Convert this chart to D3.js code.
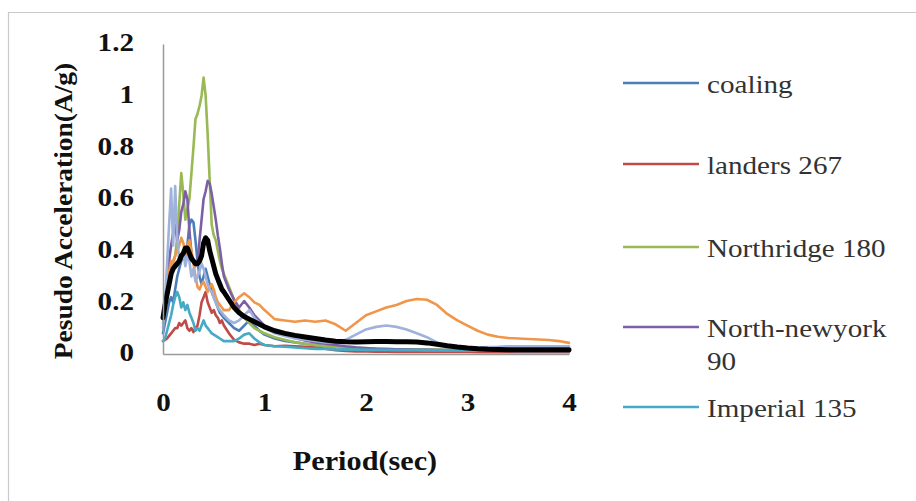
<!DOCTYPE html>
<html lang="en">
<head>
<meta charset="UTF-8">
<title>Pseudo acceleration spectra</title>
<script src="https://cdn.jsdelivr.net/npm/d3@7"></script>
<style>
  body { margin: 0; background: #fff; }
  svg { display: block; }
  text { font-family: "Liberation Serif", "Times New Roman", Times, "DejaVu Serif", serif; }
  .tick text { font-weight: bold; font-size: 26px; fill: #111; }
</style>
</head>
<body>
<svg id="chart" width="916" height="501"></svg>
<script>
// period grid (sec)
const periods = [0, 0.02, 0.04, 0.06, 0.08, 0.1, 0.12, 0.14, 0.16, 0.18, 0.2, 0.22, 0.24, 0.26, 0.28, 0.3,
  0.32, 0.34, 0.36, 0.38, 0.4, 0.42, 0.44, 0.46, 0.48, 0.5, 0.52, 0.54, 0.56, 0.58, 0.6,
  0.65, 0.7, 0.75, 0.8, 0.85, 0.9, 0.95, 1.0,
  1.1, 1.2, 1.3, 1.4, 1.5, 1.6, 1.7, 1.8, 1.9, 2.0, 2.1, 2.2, 2.3, 2.4, 2.5, 2.6, 2.7, 2.8, 2.9, 3.0,
  3.1, 3.2, 3.3, 3.4, 3.5, 3.6, 3.7, 3.8, 3.9, 4.0];

const coaling = [0.08, 0.12, 0.16, 0.2, 0.22, 0.2, 0.25, 0.3, 0.33, 0.36, 0.38, 0.36, 0.42, 0.5, 0.52, 0.51,
  0.44, 0.36, 0.3, 0.27, 0.3, 0.33, 0.3, 0.27, 0.24, 0.22, 0.2, 0.18, 0.16, 0.15, 0.14,
  0.12, 0.1, 0.09, 0.11, 0.13, 0.11, 0.09, 0.075,
  0.06, 0.05, 0.045, 0.04, 0.035, 0.03, 0.027, 0.024, 0.022, 0.02, 0.02, 0.019, 0.018, 0.018, 0.017,
  0.016, 0.016, 0.015, 0.015, 0.014, 0.014, 0.013, 0.013, 0.013, 0.012, 0.012, 0.012, 0.012, 0.012, 0.012];

const landers = [0.05, 0.055, 0.06, 0.07, 0.08, 0.09, 0.1, 0.1, 0.12, 0.11, 0.12, 0.13, 0.1, 0.09, 0.1, 0.085,
  0.1, 0.11, 0.15, 0.2, 0.22, 0.24, 0.2, 0.18, 0.16, 0.17, 0.15, 0.14, 0.12, 0.13, 0.11,
  0.08, 0.055, 0.045, 0.04, 0.04, 0.035, 0.04, 0.035,
  0.03, 0.032, 0.03, 0.028, 0.025, 0.02, 0.015, 0.012, 0.01, 0.01, 0.009, 0.009, 0.008, 0.008, 0.008,
  0.008, 0.008, 0.008, 0.008, 0.008, 0.007, 0.007, 0.007, 0.007, 0.007, 0.007, 0.007, 0.007, 0.007, 0.007];

const northridge = [0.12, 0.16, 0.22, 0.28, 0.33, 0.36, 0.38, 0.45, 0.58, 0.7, 0.62, 0.52, 0.56, 0.6, 0.7, 0.8,
  0.91, 0.93, 0.96, 1.0, 1.07, 1.0, 0.85, 0.67, 0.5, 0.46, 0.44, 0.4, 0.36, 0.33, 0.31,
  0.26, 0.21, 0.17, 0.14, 0.12, 0.1, 0.09, 0.08,
  0.065, 0.055, 0.045, 0.04, 0.035, 0.03, 0.028, 0.025, 0.022, 0.02, 0.019, 0.018, 0.018, 0.017, 0.017,
  0.016, 0.016, 0.015, 0.015, 0.015, 0.014, 0.014, 0.014, 0.014, 0.013, 0.013, 0.013, 0.013, 0.013, 0.013];

const newyork = [0.15, 0.2, 0.28, 0.36, 0.42, 0.47, 0.5, 0.44, 0.48, 0.55, 0.58, 0.63, 0.6, 0.48, 0.39, 0.36,
  0.34, 0.36, 0.44, 0.52, 0.6, 0.63, 0.67, 0.66, 0.62, 0.57, 0.52, 0.46, 0.41, 0.35, 0.3,
  0.25, 0.21, 0.18, 0.205, 0.18, 0.15, 0.13, 0.11,
  0.09, 0.075, 0.062, 0.052, 0.045, 0.04, 0.035, 0.03, 0.026, 0.023, 0.02, 0.019, 0.018, 0.017, 0.016,
  0.016, 0.015, 0.015, 0.015, 0.014, 0.014, 0.013, 0.013, 0.013, 0.012, 0.012, 0.012, 0.012, 0.012, 0.012];

const imperial = [0.05, 0.06, 0.09, 0.12, 0.15, 0.19, 0.22, 0.24, 0.22, 0.18, 0.2, 0.17, 0.19, 0.16, 0.14, 0.12,
  0.09, 0.1, 0.09, 0.11, 0.13, 0.11, 0.1, 0.09, 0.08, 0.075, 0.07, 0.065, 0.06, 0.055, 0.05,
  0.05, 0.05, 0.06, 0.075, 0.08, 0.06, 0.045, 0.035,
  0.03, 0.028, 0.025, 0.022, 0.02, 0.02, 0.018, 0.017, 0.017, 0.016, 0.016, 0.016, 0.015, 0.015, 0.015,
  0.014, 0.014, 0.014, 0.014, 0.013, 0.013, 0.013, 0.013, 0.013, 0.012, 0.012, 0.012, 0.012, 0.012, 0.012];

// two more records whose legend entries are cut off in the original
const record6 = [0.15, 0.2, 0.26, 0.32, 0.36, 0.35, 0.38, 0.4, 0.42, 0.45, 0.43, 0.38, 0.42, 0.44, 0.4, 0.35,
  0.3, 0.26, 0.25, 0.27, 0.28, 0.26, 0.24, 0.26, 0.27, 0.25, 0.22, 0.2, 0.19, 0.18, 0.17,
  0.17, 0.2, 0.22, 0.235, 0.22, 0.2, 0.19, 0.17,
  0.135, 0.13, 0.125, 0.13, 0.125, 0.13, 0.115, 0.09, 0.12, 0.15, 0.165, 0.18, 0.19, 0.205, 0.213,
  0.21, 0.19, 0.155, 0.13, 0.11, 0.09, 0.075, 0.067, 0.062, 0.06, 0.058, 0.056, 0.054, 0.05, 0.043];

const record7 = [0.1, 0.2, 0.35, 0.5, 0.64, 0.42, 0.65, 0.45, 0.36, 0.38, 0.4, 0.34, 0.38, 0.36, 0.3, 0.33,
  0.28, 0.3, 0.32, 0.35, 0.33, 0.3, 0.27, 0.25, 0.24, 0.22, 0.2, 0.18, 0.17, 0.16, 0.15,
  0.13, 0.12, 0.13, 0.15, 0.17, 0.14, 0.12, 0.1,
  0.08, 0.07, 0.06, 0.055, 0.05, 0.045, 0.045, 0.055, 0.075, 0.095, 0.105, 0.11, 0.105, 0.095, 0.08,
  0.065, 0.045, 0.032, 0.027, 0.025, 0.025, 0.027, 0.028, 0.03, 0.03, 0.03, 0.03, 0.03, 0.03, 0.03];

const mean = [0.14, 0.19, 0.23, 0.27, 0.31, 0.33, 0.34, 0.35, 0.36, 0.38, 0.39, 0.41, 0.41, 0.39, 0.37, 0.36,
  0.35, 0.35, 0.36, 0.38, 0.43, 0.45, 0.44, 0.4, 0.37, 0.34, 0.31, 0.29, 0.27, 0.25, 0.24,
  0.21, 0.18, 0.16, 0.145, 0.135, 0.125, 0.115, 0.105,
  0.09, 0.08, 0.072, 0.066, 0.06, 0.054, 0.049, 0.047, 0.046, 0.047, 0.048, 0.048, 0.047, 0.047, 0.046,
  0.043, 0.038, 0.032, 0.027, 0.023, 0.02, 0.018, 0.017, 0.016, 0.016, 0.016, 0.016, 0.016, 0.016, 0.016];

const xTicks = [0, 1, 2, 3, 4];
const yTicks = [0, 0.2, 0.4, 0.6, 0.8, 1, 1.2];

const series = [
  { name: "coaling", values: coaling, color: "#4a7ebb", legend: true },
  { name: "landers 267", values: landers, color: "#be4b48", legend: true },
  { name: "Northridge 180", values: northridge, color: "#98b954", legend: true },
  { name: "North-newyork 90", values: newyork, color: "#7d5fa6", legend: true },
  { name: "Imperial 135", values: imperial, color: "#46aac5", legend: true },
  { name: "record 6", values: record6, color: "#f0964a", legend: false },
  { name: "record 7", values: record7, color: "#9fb2dc", legend: false },
  { name: "mean", values: mean, color: "#000000", legend: false, width: 5 }
];

const svg = d3.select("#chart");
const SX = 1.12; // text in the original is slightly wide

// outer frame
svg.append("path")
  .attr("d", "M8.5,501 V12.5 H916")
  .attr("fill", "none")
  .attr("stroke", "#c9c9c9")
  .attr("stroke-width", 1.2);

const x = d3.scaleLinear().domain([0, 4]).range([163, 569]);
const y = d3.scaleLinear().domain([0, 1.2]).range([354, 44]);

const line = d3.line()
  .x((d, i) => x(periods[i]))
  .y(d => y(d));

svg.selectAll("path.series")
  .data(series)
  .enter()
  .append("path")
  .attr("class", "series")
  .attr("d", d => line(d.values))
  .attr("fill", "none")
  .attr("stroke", d => d.color)
  .attr("stroke-width", d => d.width || 2.6)
  .attr("stroke-linejoin", "round")
  .attr("stroke-linecap", "round");

// axes
const yAxis = svg.append("g")
  .attr("transform", `translate(${x(0)},0)`)
  .call(d3.axisLeft(y).tickValues(yTicks).tickSize(0).tickSizeOuter(0).tickPadding(0)
    .tickFormat(d => String(+d.toFixed(1))));
yAxis.selectAll(".tick text")
  .attr("x", 0)
  .attr("dy", "0.26em")
  .attr("transform", `translate(-29,0) scale(${SX},1)`);

const xAxis = svg.append("g")
  .attr("transform", `translate(0,${y(0)})`)
  .call(d3.axisBottom(x).tickValues(xTicks).tickSize(0).tickSizeOuter(0).tickPadding(39)
    .tickFormat(d3.format("d")));
xAxis.selectAll(".tick text")
  .attr("transform", `scale(${SX},1)`);

svg.selectAll(".domain")
  .attr("stroke", "#9a9a9a")
  .attr("stroke-width", 1.5);

// axis titles
svg.append("text")
  .attr("transform", `translate(72,211) rotate(-90) scale(${SX},1)`)
  .attr("text-anchor", "middle")
  .attr("font-weight", "bold")
  .attr("font-size", 24.5)
  .attr("fill", "#111")
  .text("Pesudo Acceleration(A/g)");

svg.append("text")
  .attr("transform", `translate(365,470) scale(${SX},1)`)
  .attr("text-anchor", "middle")
  .attr("font-weight", "bold")
  .attr("font-size", 27)
  .attr("fill", "#111")
  .text("Period(sec)");

// legend
const legendRows = [
  { lines: ["coaling"], y: 83 },
  { lines: ["landers 267"], y: 164 },
  { lines: ["Northridge 180"], y: 247 },
  { lines: ["North-newyork", "90"], y: 327 },
  { lines: ["Imperial 135"], y: 407 }
];
const legendSeries = series.filter(s => s.legend);

const legend = svg.selectAll("g.legend")
  .data(legendRows)
  .enter()
  .append("g")
  .attr("class", "legend")
  .attr("transform", d => `translate(0,${d.y})`);

legend.append("line")
  .attr("x1", 623).attr("x2", 699)
  .attr("y1", 0).attr("y2", 0)
  .attr("stroke", (d, i) => legendSeries[i].color)
  .attr("stroke-width", 2.5);

legend.each(function (d) {
  const g = d3.select(this);
  d.lines.forEach((t, k) => {
    g.append("text")
      .attr("transform", `translate(707,${10 + k * 33}) scale(${SX},1)`)
      .attr("font-size", 26)
      .attr("fill", "#333")
      .text(t);
  });
});
</script>
</body>
</html>
